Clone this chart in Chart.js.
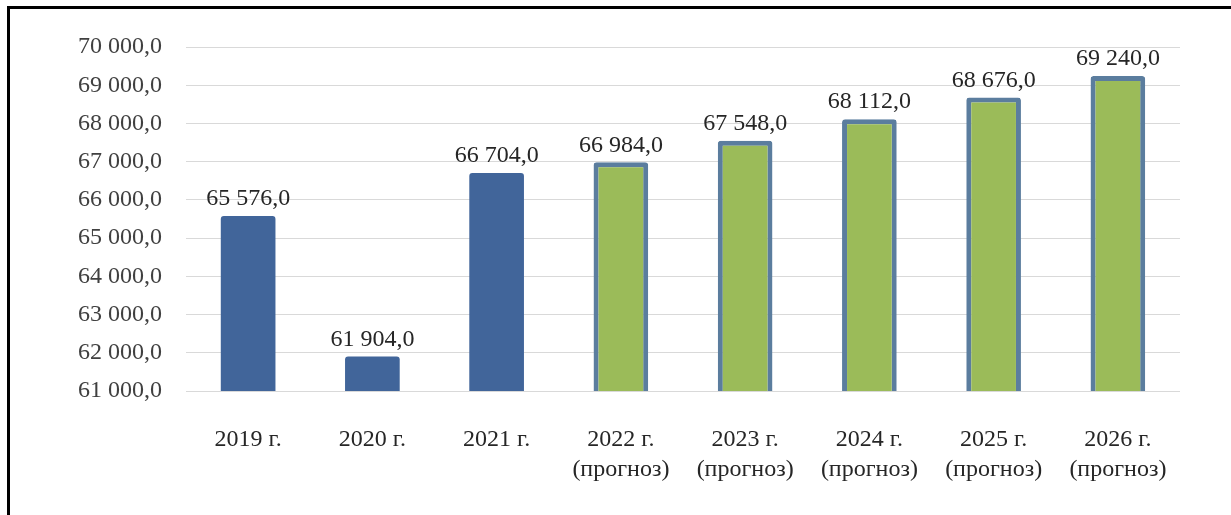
<!DOCTYPE html>
<html>
<head>
<meta charset="utf-8">
<script src="https://cdn.jsdelivr.net/npm/chart.js@4/dist/chart.umd.min.js"></script>
<style>
    html, body { margin: 0; padding: 0; background: #fff; overflow: hidden; }
    #rama {
        position: absolute; left: 7px; top: 6px; width: 1300px; height: 600px;
        border-top: 3px solid #000; border-left: 3px solid #000;
    }
    #grafica { position: absolute; left: 0; top: 0; }
</style>
</head>
<body>
<div id="rama"></div>
<canvas id="grafica" width="1231" height="515"></canvas>
<script>
(function () {
    var ANIOS = ['2019 г.', '2020 г.', '2021 г.', '2022 г.', '2023 г.', '2024 г.', '2025 г.', '2026 г.'];
    var VALORES = [65576, 61904, 66704, 66984, 67548, 68112, 68676, 69240];
    var PRONOSTICO = [false, false, false, true, true, true, true, true];

    var Y_MIN = 61000;
    var Y_MAX = 70000;
    var Y_PASO = 1000;

    var AZUL = '#41659a';
    var VERDE = '#9bbb59';
    var BORDE_VERDE = '#5b7d9e';
    var FUENTE = '"Liberation Serif", "Times New Roman", serif';

    function formato(v) {
        var partes = v.toFixed(1).split('.');
        var entero = partes[0].replace(/\B(?=(\d{3})+(?!\d))/g, ' ');
        return entero + ',' + partes[1];
    }

    var etiquetas = ANIOS.map(function (a, i) {
        return PRONOSTICO[i] ? [a, '(прогноз)'] : a;
    });

    var etiquetasValor = {
        id: 'etiquetasValor',
        afterDatasetsDraw: function (chart) {
            var ctx = chart.ctx;
            var meta = chart.getDatasetMeta(0);
            ctx.save();
            ctx.font = '24px ' + FUENTE;
            ctx.fillStyle = '#262626';
            ctx.textAlign = 'center';
            ctx.textBaseline = 'bottom';
            meta.data.forEach(function (bar, i) {
                ctx.fillText(formato(VALORES[i]), bar.x, bar.y - 5);
            });
            ctx.restore();
        },
    };

    new Chart(document.getElementById('grafica'), {
        type: 'bar',
        data: {
            labels: etiquetas,
            datasets: [{
                data: VALORES,
                backgroundColor: PRONOSTICO.map(function (p) { return p ? VERDE : AZUL; }),
                borderColor: PRONOSTICO.map(function (p) { return p ? BORDE_VERDE : AZUL; }),
                borderWidth: PRONOSTICO.map(function (p) { return p ? 5 : 0; }),
                borderRadius: 3,
                borderSkipped: false,
                barPercentage: 0.44,
                categoryPercentage: 1,
            }],
        },
        options: {
            responsive: false,
            animation: false,
            layout: {padding: {top: 47, right: 51, left: 0, bottom: 0}},
            plugins: {
                legend: {display: false},
                tooltip: {enabled: false},
            },
            scales: {
                x: {
                    grid: {display: false},
                    border: {display: false},
                    ticks: {
                        color: '#262626',
                        font: {family: FUENTE, size: 24, lineHeight: 1.25},
                        padding: 26,
                        maxRotation: 0,
                        autoSkip: false,
                    },
                    afterFit: function (scale) { scale.height = 124; },
                },
                y: {
                    min: Y_MIN,
                    max: Y_MAX,
                    grid: {color: '#d9d9d9', lineWidth: 1, drawTicks: false},
                    border: {display: false},
                    ticks: {
                        stepSize: Y_PASO,
                        color: '#404040',
                        font: {family: FUENTE, size: 24},
                        padding: 24,
                        callback: function (v) { return formato(v); },
                    },
                    afterFit: function (scale) { scale.width = 186; },
                },
            },
        },
        plugins: [etiquetasValor],
    });
})();
</script>
</body>
</html>
